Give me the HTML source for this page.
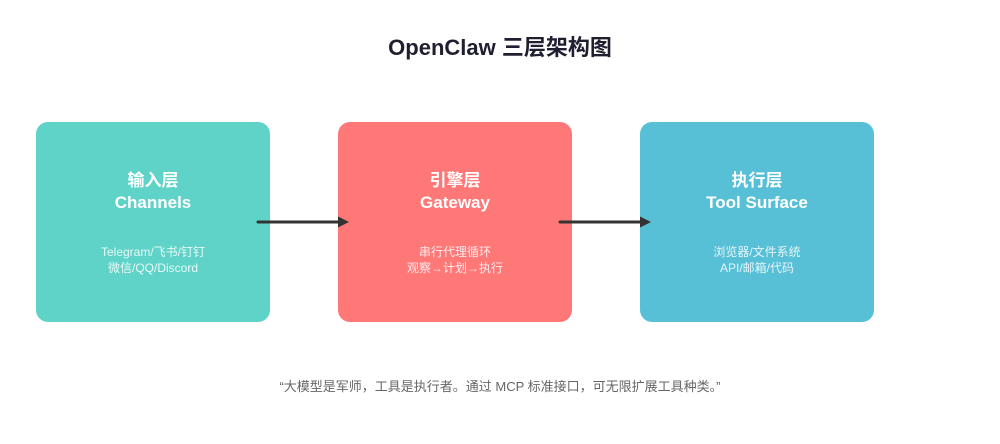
<!DOCTYPE html>
<html><head><meta charset="utf-8"><style>
body{margin:0;width:1000px;height:444px;background:#fff;position:relative;overflow:hidden;font-family:"Liberation Sans","Noto Sans CJK SC",sans-serif}
.t{position:absolute;left:0;width:1000px;text-align:center;top:30px;font-size:22px;font-weight:bold;color:#1f1f30}
.b{position:absolute;top:122px;width:234px;height:200px;border-radius:12px;color:#fff;text-align:center}
.h{position:absolute;top:48px;width:100%;font-size:17px;font-weight:bold;line-height:22px}
.s{position:absolute;top:122px;width:100%;font-size:12px;line-height:16px;color:rgba(255,255,255,.85)}
.q{position:absolute;left:0;width:1000px;text-align:center;top:376px;font-size:13px;color:#666}
</style></head><body>
<div class="t">OpenClaw 三层架构图</div>
<div class="b" style="left:36px;background:#5fd3c8"><div class="h">输入层<br>Channels</div><div class="s">Telegram/飞书/钉钉<br>微信/QQ/Discord</div></div>
<div class="b" style="left:338px;background:#ff7878"><div class="h">引擎层<br>Gateway</div><div class="s">串行代理循环<br>观察→计划→执行</div></div>
<div class="b" style="left:640px;background:#57bfd6"><div class="h">执行层<br>Tool Surface</div><div class="s">浏览器/文件系统<br>API/邮箱/代码</div></div>
<svg width="1000" height="444" style="position:absolute;left:0;top:0">
<g stroke="#333" stroke-width="3" stroke-linecap="round"><line x1="258" y1="222" x2="340" y2="222"/><line x1="560" y1="222" x2="642" y2="222"/></g>
<g fill="#333"><polygon points="349,222 338,216.5 338,227.5"/><polygon points="651,222 640,216.5 640,227.5"/></g>
</svg>
<div class="q">“大模型是军师，工具是执行者。通过 MCP 标准接口，可无限扩展工具种类。”</div>
</body></html>
